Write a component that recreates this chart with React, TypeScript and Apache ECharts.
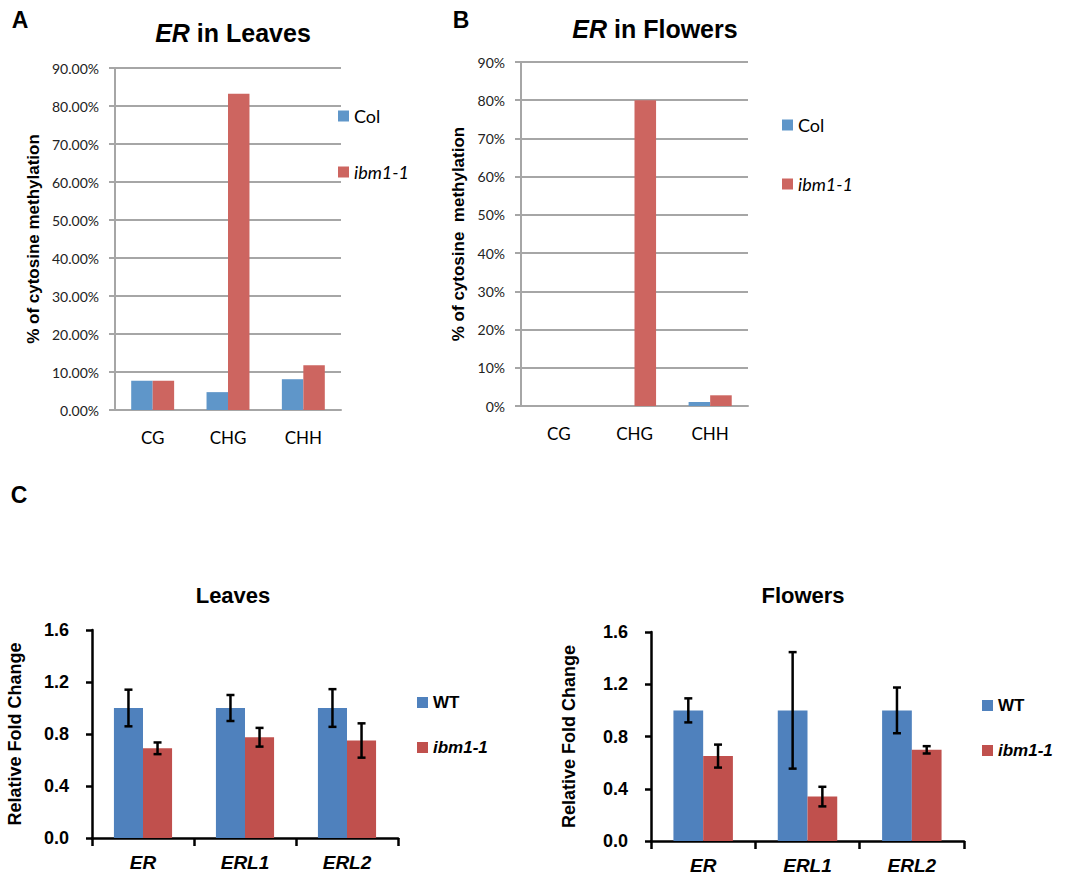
import React, { useEffect, useRef } from 'react';
import * as echarts from 'echarts';

// ---- Panel A / B: % cytosine methylation ----
const methCategories = ['CG', 'CHG', 'CHH'];
const leavesCol = [7.7, 4.7, 8.1];
const leavesIbm = [7.7, 83.2, 11.8];
const flowersCol = [0, 0, 1.05];
const flowersIbm = [0, 80, 2.8];

// ---- Panel C: relative fold change ----
const genes = ['ER', 'ERL1', 'ERL2'];
const leavesWT = [1.0, 1.0, 1.0];
const leavesWTErr = [0.141, 0.1, 0.145];
const leavesMut = [0.69, 0.775, 0.75];
const leavesMutErr = [0.045, 0.072, 0.132];
const flowersWT = [1.0, 1.0, 1.0];
const flowersWTErr = [0.092, 0.446, 0.175];
const flowersMut = [0.65, 0.34, 0.698];
const flowersMutErr = [0.088, 0.075, 0.028];

const BLUE_AB = '#5F96C9';
const RED_AB = '#CD6560';
const BLUE_C = '#4F81BD';
const RED_C = '#C0504D';
const GRID_GRAY = '#A6A6A6';
const GAP = 0.43;

const SANS = 'Liberation Sans';
const CAL = 'Lato';

function errorSeries(name: string, axisIndex: number, values: number[], errs: number[], side: number) {
  return {
    type: 'custom',
    name,
    xAxisIndex: axisIndex,
    yAxisIndex: axisIndex,
    z: 10,
    data: values.map((v, i) => [i, v - errs[i], v + errs[i]]),
    encode: { x: 0, y: [1, 2] },
    renderItem: (params: any, api: any) => {
      const i = api.value(0);
      const lo = api.coord([i, api.value(1)]);
      const hi = api.coord([i, api.value(2)]);
      const band = api.size([1, 0])[0];
      const barW = (band * (1 - GAP)) / 2;
      const x = lo[0] + (side * barW) / 2;
      const cap = 4;
      const style = { stroke: '#000', lineWidth: 2.5 };
      return {
        type: 'group',
        children: [
          { type: 'line', shape: { x1: x, y1: lo[1], x2: x, y2: hi[1] }, style },
          { type: 'line', shape: { x1: x - cap, y1: hi[1], x2: x + cap, y2: hi[1] }, style },
          { type: 'line', shape: { x1: x - cap, y1: lo[1], x2: x + cap, y2: lo[1] }, style },
        ],
      };
    },
  };
}

function methX(gridIndex: number) {
  return {
    type: 'category',
    gridIndex,
    data: methCategories,
    axisLine: { show: true, lineStyle: { color: GRID_GRAY, width: 2 } },
    axisTick: { show: false },
    axisLabel: { margin: 19, fontFamily: CAL, fontSize: 17, color: '#000' },
  };
}

function methY(gridIndex: number, fmt: (v: number) => string, name: string, nameGap: number) {
  return {
    type: 'value',
    gridIndex,
    min: 0,
    max: 90,
    interval: 10,
    axisLine: { show: true, lineStyle: { color: GRID_GRAY, width: 2 } },
    axisTick: { show: true, length: 6, lineStyle: { color: GRID_GRAY, width: 2 } },
    splitLine: { show: true, lineStyle: { color: GRID_GRAY, width: 2 } },
    axisLabel: { formatter: fmt, margin: 16, fontFamily: CAL, fontSize: 14, color: '#222' },
    name,
    nameLocation: 'middle',
    nameGap,
    nameTextStyle: { fontFamily: SANS, fontWeight: 'bold', fontSize: 17, color: '#000' },
  };
}

function geneX(gridIndex: number) {
  return {
    type: 'category',
    gridIndex,
    data: genes,
    axisLine: { show: true, lineStyle: { color: '#000', width: 2.5 } },
    axisTick: { show: true, length: 8, lineStyle: { color: '#000', width: 2.5 } },
    axisLabel: {
      margin: 15,
      fontFamily: SANS,
      fontWeight: 'bold',
      fontStyle: 'italic',
      fontSize: 19,
      color: '#000',
    },
  };
}

function geneY(gridIndex: number, nameGap: number) {
  return {
    type: 'value',
    gridIndex,
    min: 0,
    max: 1.6,
    interval: 0.4,
    axisLine: { show: true, lineStyle: { color: '#000', width: 2.5 } },
    axisTick: { show: true, length: 6, lineStyle: { color: '#000', width: 2.5 } },
    splitLine: { show: false },
    axisLabel: {
      formatter: (v: number) => v.toFixed(1),
      margin: 23,
      fontFamily: SANS,
      fontWeight: 'bold',
      fontSize: 18,
      color: '#000',
    },
    name: 'Relative Fold Change',
    nameLocation: 'middle',
    nameGap,
    nameTextStyle: { fontFamily: SANS, fontWeight: 'bold', fontSize: 18, color: '#000' },
  };
}

function bar(name: string, axisIndex: number, data: number[], color: string) {
  return {
    type: 'bar',
    name,
    xAxisIndex: axisIndex,
    yAxisIndex: axisIndex,
    data,
    barGap: '0%',
    barCategoryGap: GAP * 100 + '%',
    itemStyle: { color },
  };
}

const legendFormatter = (name: string) => {
  const label = name.split(' ')[0];
  return label === 'ibm1-1' ? '{it|' + label + '}' : '{n|' + label + '}';
};

function legend(left: number, top: number, gap: number, names: string[], bold: boolean, family: string, size: number) {
  const base = { fontFamily: family, fontSize: size, color: '#000', fontWeight: bold ? 'bold' : 'normal' };
  return {
    left,
    top,
    padding: 0,
    orient: 'vertical',
    icon: 'rect',
    itemWidth: 11,
    itemHeight: 11,
    itemGap: gap,
    data: names,
    formatter: legendFormatter,
    selectedMode: false,
    textStyle: {
      ...base,
      rich: {
        n: { ...base },
        it: { ...base, fontStyle: 'italic' },
      },
    },
  };
}

function titleText(x: number, y: number, italicPart: string, rest: string, size: number) {
  const base = { fontFamily: SANS, fontWeight: 'bold', fontSize: size, fill: '#000' };
  return {
    type: 'text',
    x,
    y,
    style: {
      text: (italicPart ? '{i|' + italicPart + '}' : '') + '{b|' + rest + '}',
      ...base,
      align: 'center',
      verticalAlign: 'middle',
      rich: {
        i: { ...base, fontStyle: 'italic', fill: '#000' },
        b: { ...base, fill: '#000' },
      },
    },
  };
}

function letter(x: number, y: number, t: string) {
  return {
    type: 'text',
    x,
    y,
    style: {
      text: t,
      fontFamily: SANS,
      fontWeight: 'bold',
      fontSize: 23,
      fill: '#000',
      align: 'center',
      verticalAlign: 'middle',
    },
  };
}

export default function App() {
  const ref = useRef<HTMLDivElement>(null);

  useEffect(() => {
    if (!ref.current) return;
    const chart = echarts.init(ref.current, undefined, { renderer: 'svg' });
    const option: any = {
      animation: false,
      backgroundColor: '#fff',
      grid: [
        { left: 115, top: 68, width: 226, height: 342 },
        { left: 521, top: 62, width: 227, height: 344 },
        { left: 92, top: 630, width: 306, height: 208 },
        { left: 651, top: 632, width: 313, height: 210 },
      ],
      xAxis: [methX(0), methX(1), geneX(2), geneX(3)],
      yAxis: [
        methY(0, (v: number) => v.toFixed(2) + '%', '% of cytosine methylation', 73),
        methY(1, (v: number) => v + '%', '% of cytosine  methylation', 54),
        geneY(2, 68),
        geneY(3, 73),
      ],
      legend: [
        legend(338, 107, 38, ['Col A', 'ibm1-1 A'], false, CAL, 18),
        legend(782, 116, 41, ['Col B', 'ibm1-1 B'], false, CAL, 18),
        legend(417, 694, 28, ['WT C1', 'ibm1-1 C1'], true, SANS, 17),
        legend(982, 697, 28, ['WT C2', 'ibm1-1 C2'], true, SANS, 17),
      ],
      series: [
        bar('Col A', 0, leavesCol, BLUE_AB),
        bar('ibm1-1 A', 0, leavesIbm, RED_AB),
        bar('Col B', 1, flowersCol, BLUE_AB),
        bar('ibm1-1 B', 1, flowersIbm, RED_AB),
        bar('WT C1', 2, leavesWT, BLUE_C),
        bar('ibm1-1 C1', 2, leavesMut, RED_C),
        bar('WT C2', 3, flowersWT, BLUE_C),
        bar('ibm1-1 C2', 3, flowersMut, RED_C),
        errorSeries('err WT leaves', 2, leavesWT, leavesWTErr, -1),
        errorSeries('err ibm leaves', 2, leavesMut, leavesMutErr, 1),
        errorSeries('err WT flowers', 3, flowersWT, flowersWTErr, -1),
        errorSeries('err ibm flowers', 3, flowersMut, flowersMutErr, 1),
      ],
      graphic: [
        letter(20, 20, 'A'),
        letter(461, 20, 'B'),
        letter(19, 495, 'C'),
        titleText(233, 33, 'ER', ' in Leaves', 25),
        titleText(655, 29, 'ER', ' in Flowers', 25),
        titleText(233, 595, '', 'Leaves', 22),
        titleText(803, 595, '', 'Flowers', 22),
      ],
    };
    chart.setOption(option);
    return () => chart.dispose();
  }, []);

  return (
    <div
      ref={ref}
      style={{ position: 'absolute', left: 0, top: 0, width: 1074, height: 875, background: '#fff' }}
    />
  );
}
